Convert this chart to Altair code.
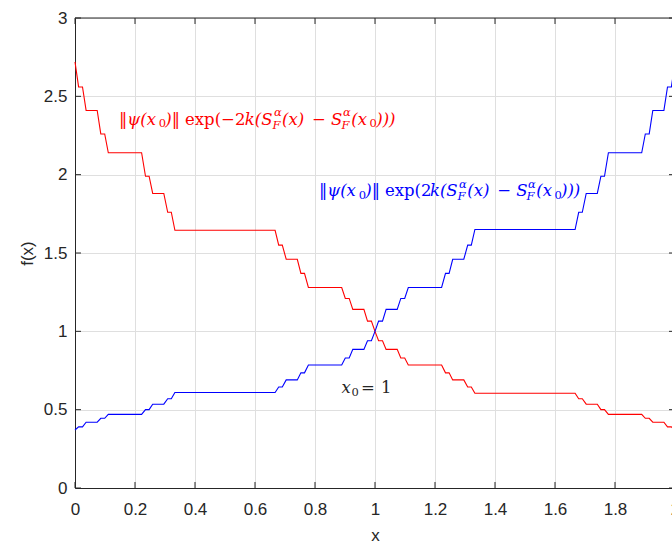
import altair as alt
import pandas as pd

# ---- data ----
# flat parts of the staircase (start x, end x)
flat_start = [0.012, 0.037, 0.086, 0.111, 0.235, 0.259, 0.309, 0.333, 0.679, 0.704, 0.753, 0.778, 0.901, 0.926, 0.975,
              1.012, 1.037, 1.086, 1.111, 1.235, 1.259, 1.309, 1.333, 1.679, 1.704, 1.753, 1.778, 1.901, 1.926, 1.975]
flat_end = [0.025, 0.074, 0.099, 0.222, 0.247, 0.296, 0.321, 0.667, 0.691, 0.741, 0.765, 0.889, 0.914, 0.963, 0.988,
            1.025, 1.074, 1.099, 1.222, 1.247, 1.296, 1.321, 1.667, 1.691, 1.741, 1.765, 1.889, 1.914, 1.963, 1.988]
red_levels = [2.56, 2.41, 2.26, 2.14, 1.99, 1.88, 1.76, 1.645, 1.55, 1.46, 1.37, 1.28, 1.21, 1.14, 1.065,
              0.94, 0.885, 0.83, 0.785, 0.735, 0.69, 0.645, 0.605, 0.57, 0.535, 0.50, 0.47, 0.445, 0.42, 0.39]
blue_levels = [0.39, 0.42, 0.445, 0.47, 0.50, 0.535, 0.57, 0.61, 0.645, 0.69, 0.735, 0.785, 0.83, 0.885, 0.94,
               1.065, 1.14, 1.21, 1.28, 1.37, 1.46, 1.55, 1.65, 1.76, 1.88, 1.99, 2.14, 2.26, 2.41, 2.56]
end_x = [0.0, 1.0, 2.0]
red_end = [2.72, 1.0, 0.37]
blue_end = [0.37, 1.0, 2.72]

x_ticks = [0, 0.2, 0.4, 0.6, 0.8, 1.0, 1.2, 1.4, 1.6, 1.8, 2.0]
y_ticks = [0, 0.5, 1.0, 1.5, 2.0, 2.5, 3.0]

# annotation pieces: text, x, y, italic, size, colour
RED, BLUE, INK = "#ff0000", "#0000ff", "#262626"
M, S = 16.5, 11.5
annotations = [
    ("‖ψ(x", 0.1467, 2.3202, True, M, RED),
    ("0", 0.2790, 2.3011, False, S, RED),
    (")‖", 0.3010, 2.3202, True, M, RED),
    ("exp(−2", 0.3667, 2.3202, False, M, RED),
    ("k(S", 0.5657, 2.3202, True, M, RED),
    ("α", 0.6633, 2.3744, True, S, RED),
    ("F", 0.6583, 2.2946, True, S, RED),
    ("(x)", 0.6900, 2.3202, True, M, RED),
    ("−", 0.7900, 2.3202, False, M, RED),
    ("S", 0.8533, 2.3202, True, M, RED),
    ("α", 0.8933, 2.3744, True, S, RED),
    ("F", 0.8883, 2.2946, True, S, RED),
    ("(x", 0.9207, 2.3202, True, M, RED),
    ("0", 0.9817, 2.3011, False, S, RED),
    (")))", 1.0040, 2.3202, True, M, RED),
    ("‖ψ(x", 0.8133, 1.8619, True, M, BLUE),
    ("0", 0.9457, 1.8428, False, S, BLUE),
    (")‖", 0.9677, 1.8619, True, M, BLUE),
    ("exp(2", 1.0333, 1.8619, False, M, BLUE),
    ("k(S", 1.1830, 1.8619, True, M, BLUE),
    ("α", 1.2800, 1.9150, True, S, BLUE),
    ("F", 1.2750, 1.8352, True, S, BLUE),
    ("(x)", 1.3077, 1.8619, True, M, BLUE),
    ("−", 1.4073, 1.8619, False, M, BLUE),
    ("S", 1.4707, 1.8619, True, M, BLUE),
    ("α", 1.5100, 1.9150, True, S, BLUE),
    ("F", 1.5050, 1.8352, True, S, BLUE),
    ("(x", 1.5377, 1.8619, True, M, BLUE),
    ("0", 1.5980, 1.8428, False, S, BLUE),
    (")))", 1.6200, 1.8619, True, M, BLUE),
    ("x", 0.8883, 0.6045, True, M, INK),
    ("0", 0.9217, 0.5854, False, S, INK),
    ("=", 0.9533, 0.6045, False, M, INK),
    ("1", 1.0200, 0.6045, False, M, INK),
]


def vertices(levels, ends):
    rows = list(zip(end_x, ends))
    for a, b, v in zip(flat_start, flat_end, levels):
        rows.append((a, v))
        rows.append((b, v))
    rows.sort()
    return pd.DataFrame({"x": [r[0] for r in rows], "y": [r[1] for r in rows], "o": list(range(len(rows)))})


W, H = 597, 470
xs = alt.Scale(domain=[0, 2], range=[0, 600], nice=False, zero=False)
ys = alt.Scale(domain=[0, 3], nice=False, zero=True)
LABEL_FONT = "Liberation Sans"
MATH_FONT = "DejaVu Serif, serif"

xaxis = alt.Axis(values=x_ticks, format="~g", ticks=False, labelPadding=13, labelFont=LABEL_FONT,
                 labelFontSize=17, labelColor=INK, domainColor=INK, domainWidth=1, gridColor="#dfdfdf",
                 title="x", titleFont=LABEL_FONT, titleFontSize=17, titleFontWeight="normal",
                 titleColor=INK, titlePadding=10, labelFlush=False, labelOverlap=False)
yaxis = alt.Axis(values=y_ticks, format="~g", ticks=False, labelPadding=8, labelFont=LABEL_FONT,
                 labelFontSize=17, labelColor=INK, domainColor=INK, domainWidth=1, gridColor="#dfdfdf",
                 title="f(x)", titleFont=LABEL_FONT, titleFontSize=17, titleFontWeight="normal",
                 titleColor=INK, titlePadding=7, labelFlush=False, labelOverlap=False)


def X(field):
    return alt.X(field, scale=xs, axis=xaxis)


def Y(field):
    return alt.Y(field, scale=ys, axis=yaxis)


red_line = alt.Chart(vertices(red_levels, red_end)).mark_line(color=RED, strokeWidth=1.1).encode(
    x=X("x:Q"), y=Y("y:Q"), order="o:Q")
blue_line = alt.Chart(vertices(blue_levels, blue_end)).mark_line(color=BLUE, strokeWidth=1.1).encode(
    x=X("x:Q"), y=Y("y:Q"), order="o:Q")

xt = pd.DataFrame({"x": x_ticks})
yt = pd.DataFrame({"y": y_ticks})
tick_bottom = alt.Chart(xt).mark_rule(color=INK, strokeWidth=1).encode(
    x=X("x:Q"), y=alt.value(H), y2=alt.value(H - 6))
tick_top = alt.Chart(xt).mark_rule(color=INK, strokeWidth=1).encode(
    x=X("x:Q"), y=alt.value(0), y2=alt.value(6))
tick_left = alt.Chart(yt).mark_rule(color=INK, strokeWidth=1).encode(
    y=Y("y:Q"), x=alt.value(0), x2=alt.value(6))
tick_right = alt.Chart(yt).mark_rule(color=INK, strokeWidth=1).encode(
    y=Y("y:Q"), x=alt.value(594), x2=alt.value(600))
top_border = alt.Chart(pd.DataFrame({"y": [3]})).mark_rule(color=INK, strokeWidth=1).encode(
    y=Y("y:Q"), x=alt.value(0), x2=alt.value(600))

text_layers = []
for t, x, y, italic, size, col in annotations:
    kw = dict(align="left", baseline="alphabetic", font=MATH_FONT, fontSize=size, color=col)
    if italic:
        kw["fontStyle"] = "italic"
    text_layers.append(
        alt.Chart(pd.DataFrame({"x": [x], "y": [y], "t": [t]})).mark_text(**kw).encode(
            x=X("x:Q"), y=Y("y:Q"), text="t:N"))

chart = alt.layer(red_line, blue_line, tick_bottom, tick_top, tick_left, tick_right, top_border,
                  *text_layers).properties(
    width=W, height=H, autosize=alt.AutoSizeParams(type="none"),
    padding={"left": 75, "top": 18, "right": 0, "bottom": 55}, background="white"
).configure_view(stroke=None)

chart.save("out.html", embed_options={"renderer": "svg", "actions": False})
